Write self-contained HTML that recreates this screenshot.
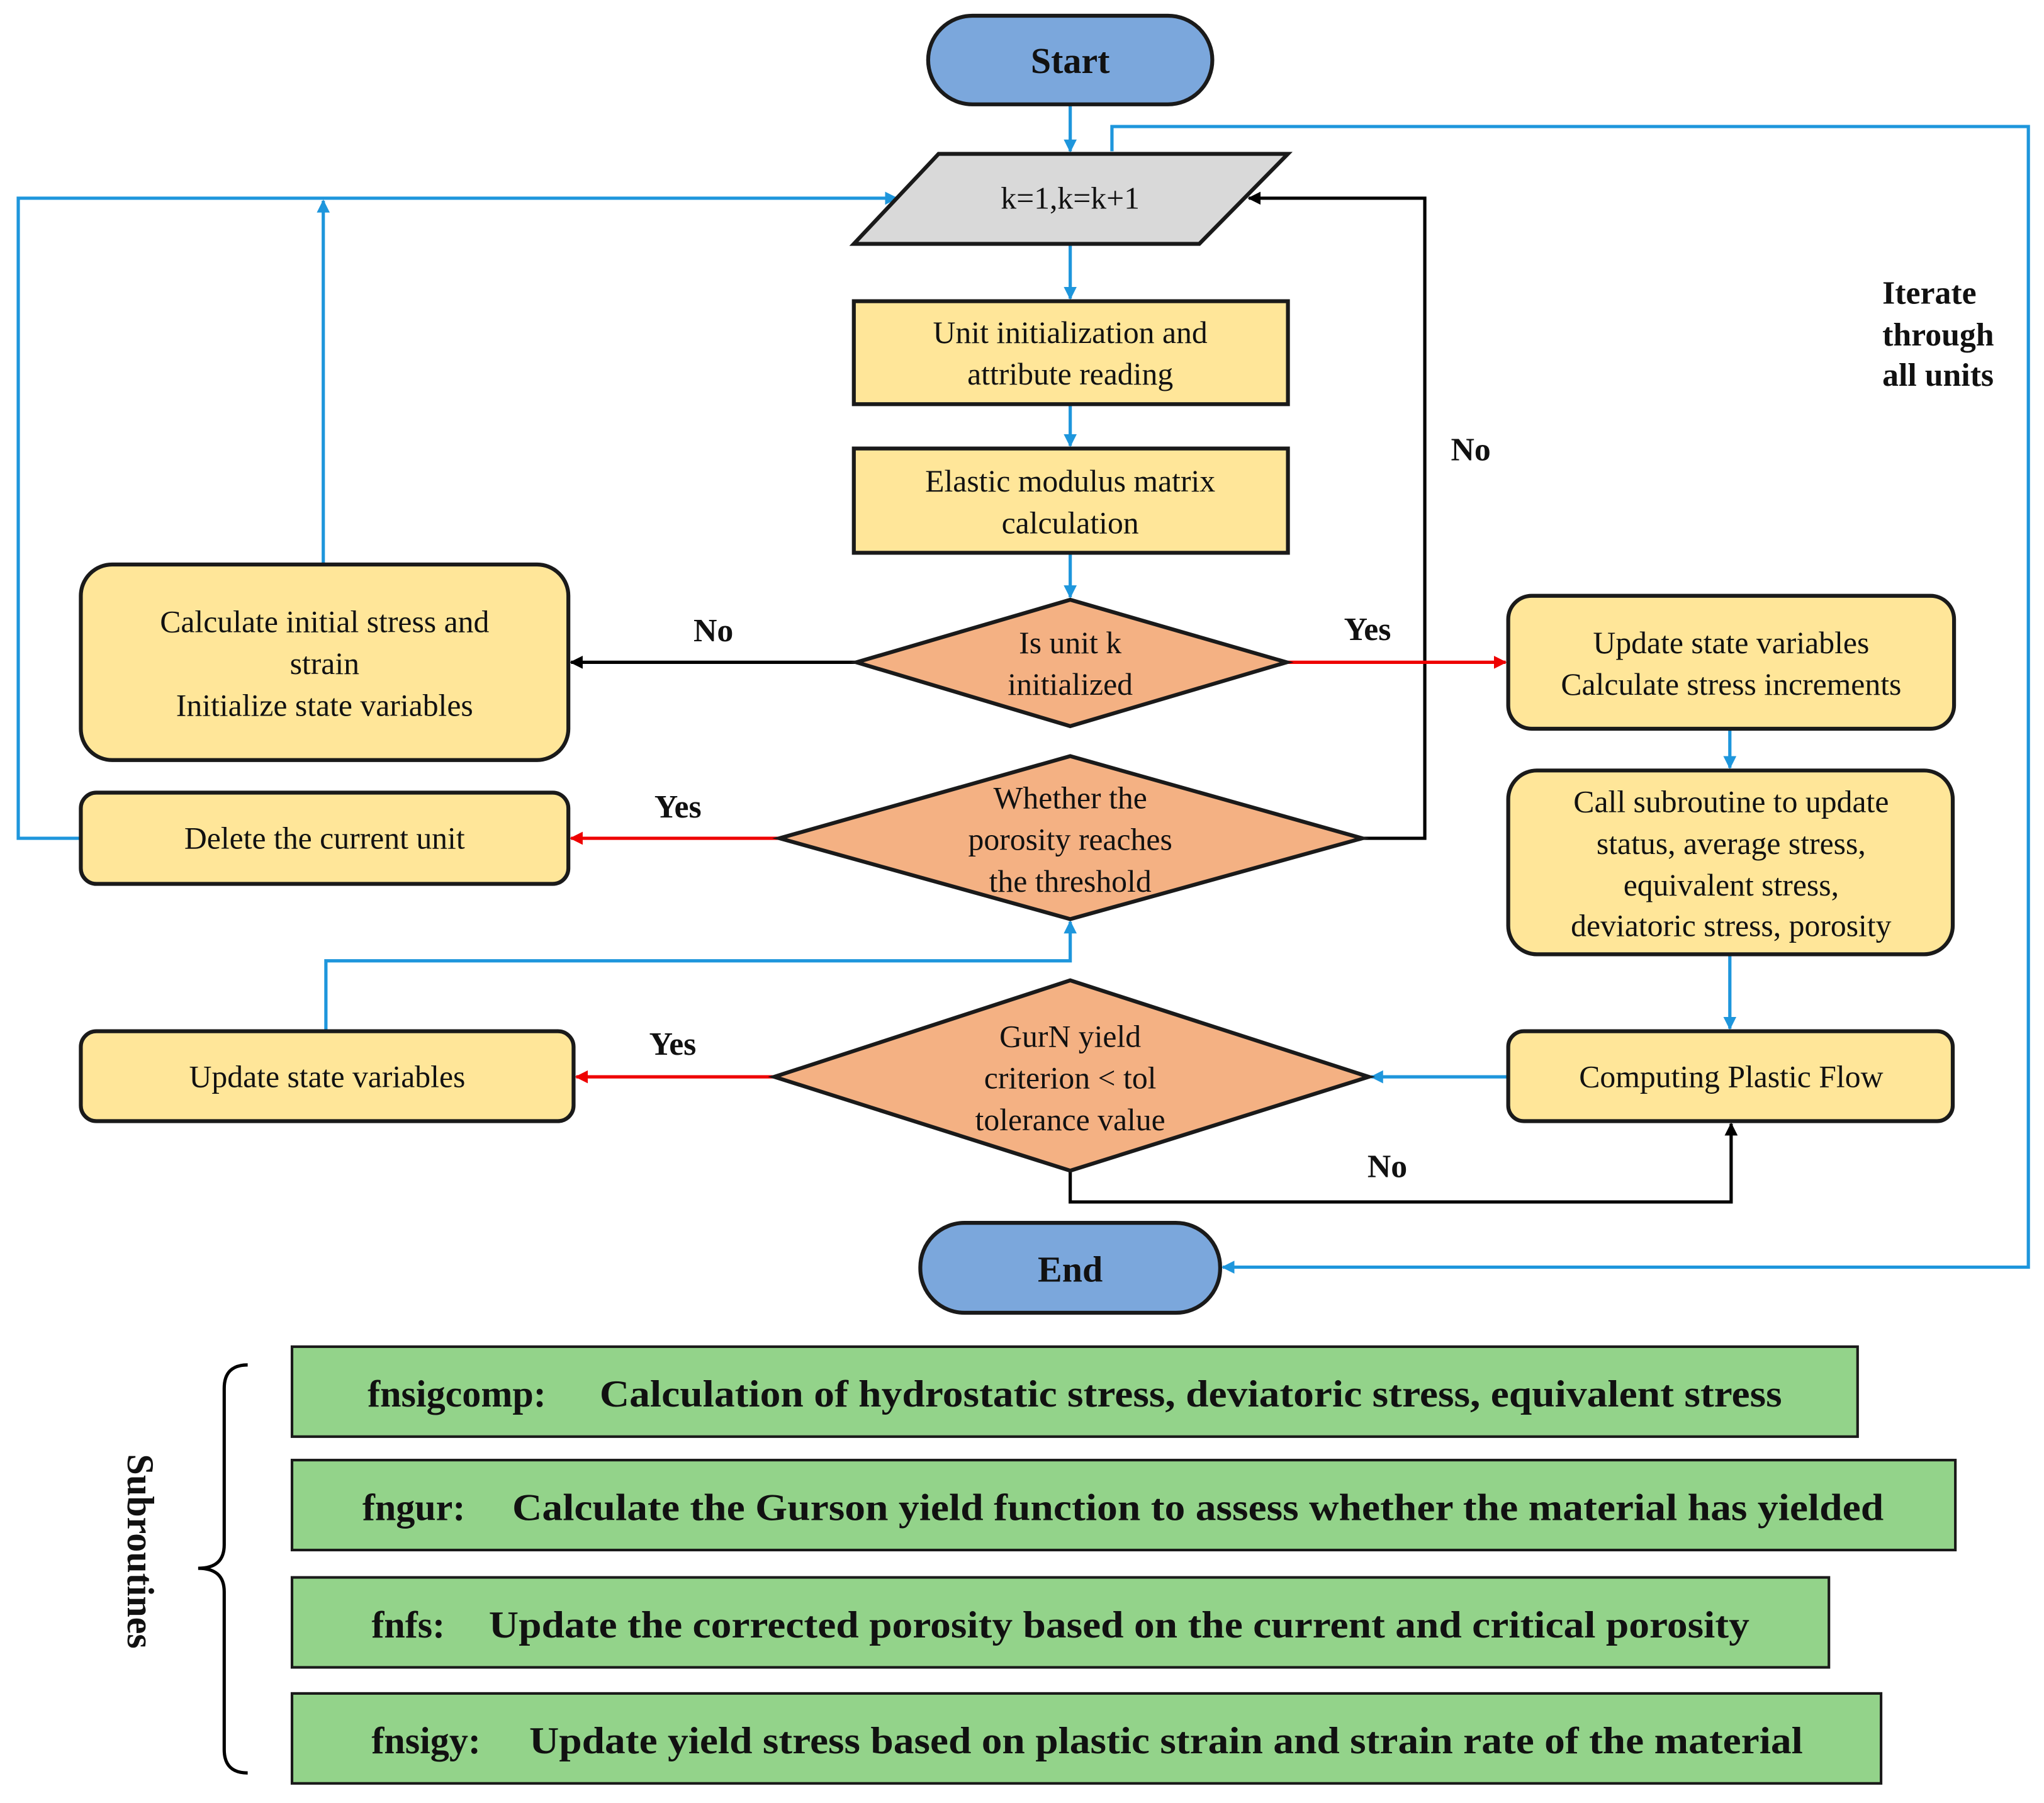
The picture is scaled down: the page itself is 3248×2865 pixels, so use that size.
<!DOCTYPE html>
<html><head><meta charset="utf-8"><style>
html,body{margin:0;padding:0;background:#fff;font-family:"Liberation Serif",serif;}
svg{display:block;font-family:"Liberation Serif",serif;}
svg text{font-family:"Liberation Serif",serif;}
</style></head><body>
<svg width="3248" height="2865" viewBox="0 0 1568 1383" xmlns="http://www.w3.org/2000/svg" font-family="Liberation Serif, serif">
<defs>
<marker id="ab" markerWidth="10" markerHeight="10" refX="9" refY="5" orient="auto" markerUnits="userSpaceOnUse"><path d="M0,0 L10,5 L0,10 z" fill="#1e96dc"/></marker>
<marker id="ak" markerWidth="10" markerHeight="10" refX="9" refY="5" orient="auto" markerUnits="userSpaceOnUse"><path d="M0,0 L10,5 L0,10 z" fill="#000"/></marker>
<marker id="ar" markerWidth="10" markerHeight="10" refX="9" refY="5" orient="auto" markerUnits="userSpaceOnUse"><path d="M0,0 L10,5 L0,10 z" fill="#e00"/></marker>
</defs>
<g fill="none" stroke-width="2.5">
<g stroke="#1e96dc" marker-end="url(#ab)">
<line x1="821" y1="80" x2="821" y2="116"/>
<line x1="821" y1="187" x2="821" y2="229"/>
<line x1="821" y1="310" x2="821" y2="342"/>
<line x1="821" y1="424" x2="821" y2="458"/>
<line x1="1327" y1="559" x2="1327" y2="589"/>
<line x1="1327" y1="732" x2="1327" y2="789"/>
<line x1="1157" y1="826" x2="1052" y2="826"/>
<polyline points="250,791 250,737 821,737 821,707"/>
<line x1="248" y1="433" x2="248" y2="154"/>
<polyline points="62,643 14,643 14,152 688,152"/>
<polyline points="853,116 853,97 1556,97 1556,972 938,972"/>
</g>
<g stroke="#000" marker-end="url(#ak)">
<line x1="657" y1="508" x2="438" y2="508"/>
<polyline points="821,898 821,922 1328,922 1328,862"/>
<polyline points="1045,643 1093,643 1093,152 958,152"/>
</g>
<g stroke="#e00" marker-end="url(#ar)">
<line x1="987" y1="508" x2="1155" y2="508"/>
<line x1="594" y1="826" x2="442" y2="826"/>
<line x1="598" y1="643" x2="438" y2="643"/>
</g>
</g>
<g stroke="#1a1a1a" stroke-width="3">
<rect x="712" y="12" width="218" height="68" rx="34" fill="#7ba7dc"/>
<rect x="706" y="938" width="230" height="69" rx="34" fill="#7ba7dc"/>
<polygon points="655,187 720,118 988,118 920,187" fill="#d9d9d9"/>
<rect x="655" y="231" width="333" height="79" fill="#ffe699"/>
<rect x="655" y="344" width="333" height="80" fill="#ffe699"/>
<polygon points="657,508 821,460 987,508 821,557" fill="#f4b183"/>
<polygon points="598,643 821,580 1045,643 821,705" fill="#f4b183"/>
<polygon points="594,826 821,752 1050,826 821,898" fill="#f4b183"/>
<rect x="62" y="433" width="374" height="150" rx="24" fill="#ffe699"/>
<rect x="62" y="608" width="374" height="70" rx="12" fill="#ffe699"/>
<rect x="62" y="791" width="378" height="69" rx="12" fill="#ffe699"/>
<rect x="1157" y="457" width="342" height="102" rx="18" fill="#ffe699"/>
<rect x="1157" y="591" width="341" height="141" rx="22" fill="#ffe699"/>
<rect x="1157" y="791" width="341" height="69" rx="12" fill="#ffe699"/>
<g fill="#93d38a" stroke-width="2">
<rect x="224" y="1033" width="1201" height="69"/>
<rect x="224" y="1120" width="1276" height="69"/>
<rect x="224" y="1210" width="1179" height="69"/>
<rect x="224" y="1299" width="1219" height="69"/>
</g>
</g>
<path d="M190,1047 Q172,1047 172,1065 L172,1185 Q172,1203 152,1203 Q172,1203 172,1221 L172,1342 Q172,1360 190,1360" fill="none" stroke="#000" stroke-width="2.5"/>
<g font-size="24" text-anchor="middle" fill="#111">
<text x="821" y="160">k=1,k=k+1</text>
<text x="821" y="263">Unit initialization and</text>
<text x="821" y="295">attribute reading</text>
<text x="821" y="377">Elastic modulus matrix</text>
<text x="821" y="409">calculation</text>
<text x="821" y="501">Is unit k</text>
<text x="821" y="533">initialized</text>
<text x="821" y="620">Whether the</text>
<text x="821" y="652">porosity reaches</text>
<text x="821" y="684">the threshold</text>
<text x="821" y="803">GurN yield</text>
<text x="821" y="835">criterion &lt; tol</text>
<text x="821" y="867">tolerance value</text>
<text x="249" y="485">Calculate initial stress and</text>
<text x="249" y="517">strain</text>
<text x="249" y="549">Initialize state variables</text>
<text x="249" y="651">Delete the current unit</text>
<text x="251" y="834">Update state variables</text>
<text x="1328" y="501">Update state variables</text>
<text x="1328" y="533">Calculate stress increments</text>
<text x="1328" y="623">Call subroutine to update</text>
<text x="1328" y="655">status, average stress,</text>
<text x="1328" y="687">equivalent stress,</text>
<text x="1328" y="718">deviatoric stress, porosity</text>
<text x="1328" y="834">Computing Plastic Flow</text>
</g>
<g font-size="25" font-weight="bold" fill="#111">
<text x="821" y="56" text-anchor="middle" font-size="28">Start</text>
<text x="821" y="983" text-anchor="middle" font-size="28">End</text>
<text x="532" y="492">No</text>
<text x="1031" y="491">Yes</text>
<text x="502" y="627">Yes</text>
<text x="498" y="809">Yes</text>
<text x="1049" y="903">No</text>
<text x="1113" y="353">No</text>
<text x="1444" y="233">Iterate</text>
<text x="1444" y="265">through</text>
<text x="1444" y="296">all units</text>
</g>
<g font-size="29" font-weight="bold" fill="#111">
<text x="282" y="1079">fnsigcomp:</text>
<text x="460" y="1079" textLength="907" lengthAdjust="spacingAndGlyphs">Calculation of hydrostatic stress, deviatoric stress, equivalent stress</text>
<text x="278" y="1166">fngur:</text>
<text x="393" y="1166" textLength="1052" lengthAdjust="spacingAndGlyphs">Calculate the Gurson yield function to assess whether the material has yielded</text>
<text x="285" y="1256">fnfs:</text>
<text x="375" y="1256" textLength="967" lengthAdjust="spacingAndGlyphs">Update the corrected porosity based on the current and critical porosity</text>
<text x="285" y="1345">fnsigy:</text>
<text x="406" y="1345" textLength="977" lengthAdjust="spacingAndGlyphs">Update yield stress based on plastic strain and strain rate of the material</text>
<text x="0" y="0" transform="translate(98,1190) rotate(90)" text-anchor="middle">Subroutines</text>
</g>
</svg>
</body></html>
